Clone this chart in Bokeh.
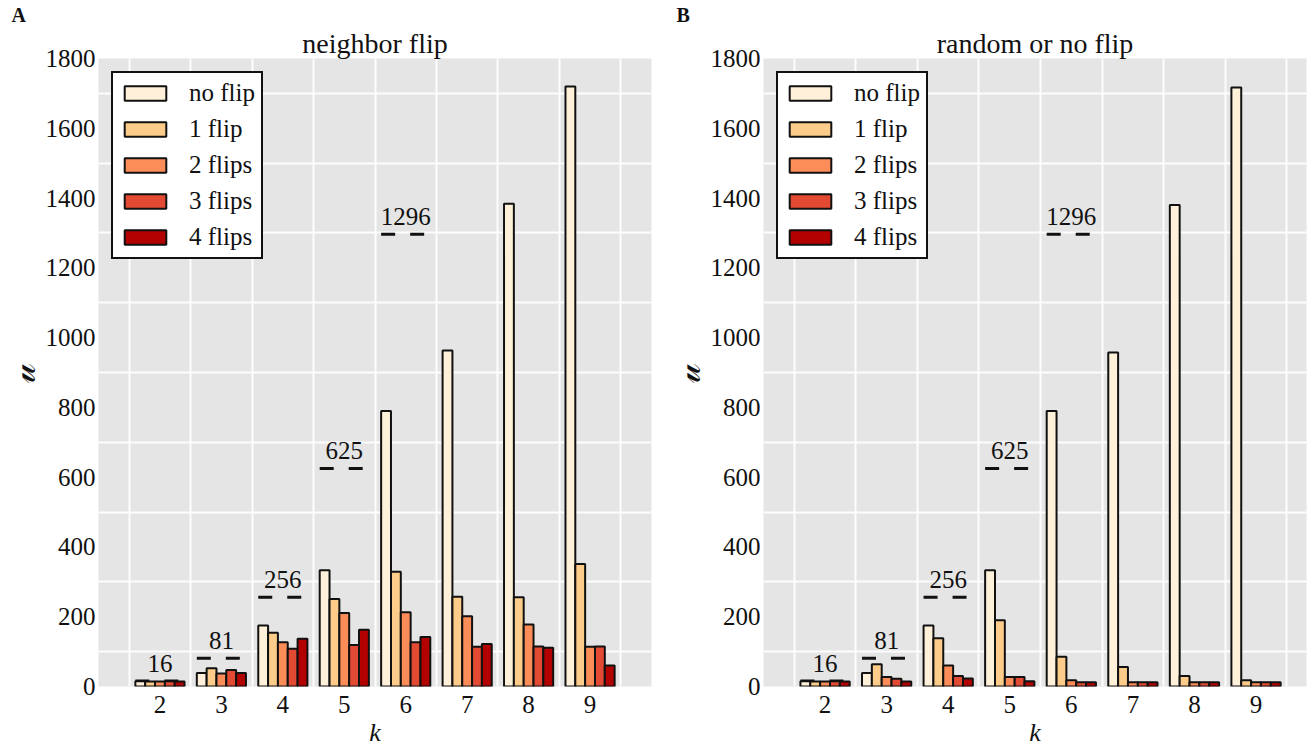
from bokeh.plotting import figure
from bokeh.layouts import row
from bokeh.models import ColumnDataSource, FixedTicker, Range1d, Legend, LegendItem, Title
from bokeh.transform import dodge
from bokeh.embed import file_html
from bokeh.resources import INLINE
from bokeh.core.properties import value

# ---------------- data ----------------
k_values = [2, 3, 4, 5, 6, 7, 8, 9]
series_names = ["no flip", "1 flip", "2 flips", "3 flips", "4 flips"]
series_colors = ["#fef0d9", "#fdcc8a", "#fc8d59", "#e34a33", "#b30000"]

neighbor_no_flip = [15, 39, 175, 333, 790, 963, 1384, 1720]
neighbor_1_flip = [14, 52, 154, 251, 329, 257, 256, 351]
neighbor_2_flips = [14, 37, 127, 211, 213, 201, 178, 114]
neighbor_3_flips = [15, 47, 108, 119, 127, 114, 115, 115]
neighbor_4_flips = [14, 39, 137, 163, 142, 122, 111, 60]

random_no_flip = [15, 39, 175, 333, 790, 957, 1380, 1717]
random_1_flip = [14, 64, 138, 190, 85, 56, 30, 18]
random_2_flips = [14, 27, 60, 27, 18, 12, 12, 12]
random_3_flips = [15, 22, 30, 27, 12, 12, 12, 12]
random_4_flips = [14, 14, 23, 15, 12, 12, 12, 12]

bound_k = [2, 3, 4, 5, 6]
bound_values = [16, 81, 256, 625, 1296]
bound_labels = ["16", "81", "256", "625", "1296"]

y_ticks = [0, 200, 400, 600, 800, 1000, 1200, 1400, 1600, 1800]
y_grid = [100, 300, 500, 700, 900, 1100, 1300, 1500, 1700]
x_grid = [1.5, 2.5, 3.5, 4.5, 5.5, 6.5, 7.5, 8.5, 9.5]

SERIF = "Liberation Serif"
BAR_W = 0.16


def make_panel(title, letter, series, width, b_left, b_right, x_end):
    p = figure(width=width, height=749, output_backend="svg", toolbar_location=None,
               x_range=Range1d(1, x_end), y_range=Range1d(0, 1800),
               min_border_left=b_left, min_border_right=b_right,
               min_border_top=58, min_border_bottom=62)
    p.background_fill_color = "#e5e5e5"
    p.border_fill_color = "white"
    p.outline_line_color = None

    # titles: panel letter (outer) and panel title (inner)
    p.title.text = letter
    p.title.align = "left"
    p.title.offset = -87
    p.title.standoff = 0
    p.title.vertical_align = "bottom"
    p.title.text_font = SERIF
    p.title.text_font_style = "bold"
    p.title.text_font_size = "20px"
    p.title.text_color = "#111111"
    p.add_layout(Title(text=title, align="center", standoff=0, text_font=SERIF,
                       text_font_style="normal", text_font_size="28px",
                       text_color="#111111"), "above")

    p.xaxis.ticker = FixedTicker(ticks=k_values)
    p.yaxis.ticker = FixedTicker(ticks=y_ticks)
    p.xgrid.ticker = FixedTicker(ticks=x_grid)
    p.ygrid.ticker = FixedTicker(ticks=y_grid)
    for g in (p.xgrid, p.ygrid):
        g.grid_line_color = "white"
        g.grid_line_width = 2
        g.grid_line_alpha = 0.9
    for ax in (p.xaxis, p.yaxis):
        ax.axis_line_color = None
        ax.major_tick_line_color = None
        ax.minor_tick_line_color = None
        ax.major_tick_out = 0
        ax.major_tick_in = 0
        ax.minor_tick_out = 0
        ax.minor_tick_in = 0
        ax.major_label_text_font = SERIF
        ax.major_label_text_font_size = "25px"
        ax.major_label_text_color = "#111111"
        ax.axis_label_text_font = SERIF
        ax.axis_label_text_color = "#111111"
    p.yaxis.major_label_standoff = 3
    p.xaxis.major_label_standoff = 9
    p.xaxis.axis_label = "k"
    p.xaxis.axis_label_text_font_style = "italic"
    p.xaxis.axis_label_text_font_size = "26px"
    p.xaxis.axis_label_standoff = 2
    p.yaxis.axis_label = "\U0001D4CA"
    p.yaxis.axis_label_text_font_style = "normal"
    p.yaxis.axis_label_text_font_size = "35px"
    p.yaxis.axis_label_standoff = 0

    # bound markers (k^4)
    bsrc = ColumnDataSource(dict(k=bound_k, v=bound_values, label=bound_labels))
    p.segment(x0=dodge("k", -0.4), y0="v", x1=dodge("k", 0.4), y1="v", source=bsrc,
              line_color="#111111", line_width=3, line_dash="14 15")
    p.text(x="k", y="v", text="label", source=bsrc, text_align="center",
           text_baseline="bottom", y_offset=-9, text_font=value(SERIF),
           text_font_size="25px", text_color="#111111")

    data = dict(k=k_values)
    for i, s in enumerate(series):
        data["s%d" % i] = s
    src = ColumnDataSource(data)
    items = []
    for i, name in enumerate(series_names):
        r = p.vbar(x=dodge("k", (i - 2) * BAR_W), top="s%d" % i, width=BAR_W, bottom=0,
                   source=src, fill_color=series_colors[i], line_color="#111111",
                   line_width=2)
        items.append(LegendItem(label=name, renderers=[r]))

    leg = Legend(items=items, location="top_left")
    leg.margin = 13
    leg.padding = 6
    leg.spacing = 8
    leg.glyph_width = 52
    leg.glyph_height = 18
    leg.label_height = 22
    leg.label_standoff = 18
    leg.label_text_font = SERIF
    leg.label_text_font_size = "25px"
    leg.label_text_color = "#111111"
    leg.border_line_color = "#111111"
    leg.border_line_width = 2
    leg.border_line_alpha = 1.0
    leg.background_fill_color = "white"
    leg.background_fill_alpha = 1.0
    p.add_layout(leg, "center")
    return p


pA = make_panel("neighbor flip", "A",
                [neighbor_no_flip, neighbor_1_flip, neighbor_2_flips, neighbor_3_flips, neighbor_4_flips],
                660, 97, 9, 10.0)
pB = make_panel("random or no flip", "B",
                [random_no_flip, random_1_flip, random_2_flips, random_3_flips, random_4_flips],
                648, 103, 2, 9.82)

layout = row(pA, pB)
open("out.html", "w").write(file_html(layout, INLINE))
